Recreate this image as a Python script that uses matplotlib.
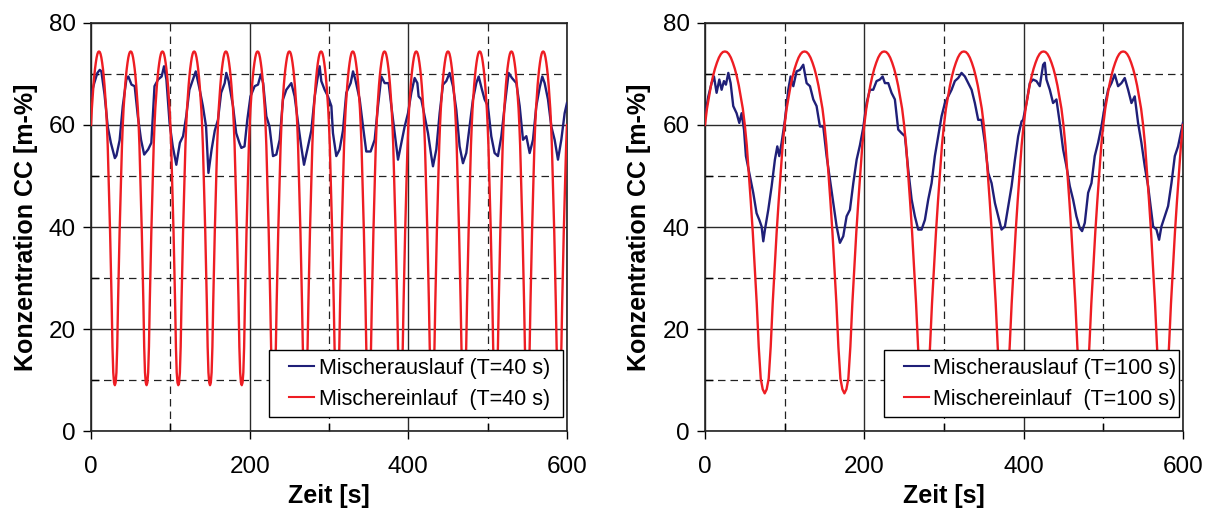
import numpy as np
import matplotlib
matplotlib.use("Agg")
import matplotlib.pyplot as plt
from matplotlib.ticker import MultipleLocator
from matplotlib.legend_handler import HandlerLine2D

plt.rcParams['font.family'] = ['Liberation Sans', 'DejaVu Sans']

# ---------------------------------------------------
# Data
# ---------------------------------------------------

# Mischereinlauf: one period of the inlet signal, 40 samples per period
left_red_cycle = [60, 63.2, 65.5, 67.7, 69.5, 71.0, 72.2, 73.2, 73.9, 74.3,
                  74.4, 74.3, 73.9, 73.2, 72.2, 71.0, 69.5, 67.7, 65.5, 63.2,
                  60, 56, 50.5, 45, 39, 32, 25, 16.5, 11.5, 9.5,
                  9.0, 9.5, 11.5, 16.5, 25, 32, 39, 45, 50.5, 56]
right_red_cycle = [60, 63.2, 65.5, 67.7, 69.5, 71.0, 72.2, 73.2, 73.9, 74.3,
                   74.4, 74.3, 73.9, 73.2, 72.2, 71.0, 69.5, 67.7, 65.5, 63.2,
                   60, 56, 50.5, 45, 39, 32, 25, 16.5, 10.3, 8.2,
                   7.4, 8.2, 10.3, 16.5, 25, 32, 39, 45, 50.5, 56]
left_period = 40
right_period = 100

# Mischerauslauf (T=40 s)
left_blue_t = [0, 2, 4, 8, 11, 13, 17, 21, 25, 30, 32, 36, 40, 44.5, 47, 51, 55, 59, 63, 67,
               72, 76, 80, 84.5, 89, 92, 95, 99, 103, 107.5, 112, 116, 120, 124, 128.5, 132, 137, 141, 145, 148,
               152, 156, 160, 164, 168.5, 170.5, 173.5, 179, 183, 187, 189.5, 193.5, 197, 201, 206.3, 210.5, 214, 217, 221, 225,
               229.4, 233.6, 237.8, 242, 246.2, 252.5, 256.7, 261, 265, 268.5, 272.7, 277.7, 282, 285.3, 288.2, 290.3, 294.5, 298.7, 303, 305,
               309.2, 313.4, 317.6, 321.8, 327.3, 330.3, 333.2, 338.7, 342.9, 347, 352.5, 357.6, 361.8, 366, 370.2, 375.2, 378.6, 382.8, 387, 391.2,
               395.4, 399.6, 403.8, 408, 411.4, 413, 416.4, 420.6, 424.8, 429, 431.1, 435.3, 439.5, 443.7, 447.9, 452.1, 456.3, 460.5, 464.7, 468.9,
               473.1, 477.3, 481.5, 485.7, 488.7, 492.9, 496.2, 500.4, 504.6, 508.8, 513, 517.3, 521.5, 526.5, 530.7, 536.2, 540.4, 544.6, 548.8, 553,
               557.2, 561.4, 565.6, 568.9, 571.9, 576.1, 580.3, 584.5, 588.7, 592.9, 597.1, 600]
left_blue_c = [65.5, 67, 68.2, 70.2, 70.8, 70.5, 66, 59.7, 56.5, 53.5, 54, 57, 63.7, 68.9, 69.5, 67.9, 67.6, 61.7, 57.1, 54.2,
               55.2, 56.5, 67.6, 68.9, 69.5, 71.5, 68.9, 60.4, 55.8, 52.2, 56.5, 57.8, 61.7, 66.9, 68.9, 70.5, 66.9, 63.7, 59.7, 50.6,
               55.2, 58.9, 61, 66.3, 68.2, 70.2, 68.6, 63.7, 58.4, 56.5, 55.5, 55.8, 61, 65.6, 67.6, 67.9, 69.9, 68.2, 61.7, 59.7,
               53.9, 54.2, 57.1, 65, 66.9, 68.2, 65.6, 60.4, 55.8, 52.2, 55.2, 58.9, 65.6, 68.9, 71.5, 68.6, 66.9, 65.6, 63.7, 58.4,
               53.9, 55.2, 58.9, 66.3, 68.2, 70.5, 68.9, 65, 59.7, 54.8, 54.8, 57.1, 63.7, 69.5, 68.2, 68.2, 63.7, 58.4, 53.2, 56.5,
               59.7, 62.3, 66.3, 69.2, 68.2, 65.6, 65, 61.7, 58.4, 53.9, 51.9, 55.2, 62.3, 67.9, 68.6, 70.2, 67.6, 63, 55.8, 52.5,
               54.5, 59.7, 65, 68.2, 69.5, 66.9, 65, 63.7, 57.8, 54.5, 53.9, 57.8, 63.7, 70.2, 69.2, 68.2, 63.7, 57.1, 57.8, 54.5,
               57.1, 63.7, 67.3, 69.5, 68.2, 65, 59.7, 57.1, 53.2, 57.1, 62.3, 64.3]

# Mischerauslauf (T=100 s)
right_blue_t = [0, 4.2, 8.3, 11.3, 14.6, 18, 20.9, 23.8, 26.3, 29.3, 32.2, 35.5, 39.7, 43.1, 46, 49, 51.4, 56.5, 60.6, 64.8,
                68.2, 71.1, 73.2, 75.3, 79.5, 83.7, 87.8, 90.8, 93.3, 96.2, 100.4, 104.6, 107.5, 110.9, 115, 119.2, 123.4, 127.6, 131.8, 136,
                140.1, 144.3, 148.5, 152.7, 156.9, 161.1, 165.3, 169.4, 173.6, 177.8, 182, 186.2, 190.4, 194.5, 198.7, 202.9, 207, 211.2, 215.4, 219.6,
                223, 225.9, 230.1, 234.2, 238.4, 242.6, 246.8, 251, 255.2, 259.4, 263.5, 267.7, 271.9, 276.1, 280.3, 284.5, 288.6, 292.8, 297, 301.2,
                305.4, 309.6, 313.7, 317.9, 322.1, 326.3, 330.5, 334.7, 338.8, 343, 347.2, 351.4, 355.6, 359.8, 364, 368.1, 372.3, 376.5, 380.7, 384.9,
                389.1, 393.2, 397.4, 399.4, 403.6, 407.8, 411.9, 416.1, 420.3, 424.5, 426.6, 428.7, 432.9, 437, 441.2, 445.4, 449.6, 453.8, 458, 462.1,
                466.3, 470.5, 473.4, 476.8, 481, 485.2, 489.3, 493.5, 497.7, 501.9, 506.1, 510.3, 514.4, 518.6, 522.8, 527, 531.2, 535.4, 539.5, 543.7,
                547.9, 552.1, 556.3, 560.5, 562.6, 566.8, 570.1, 573, 577.2, 581.4, 585.6, 589.8, 593.9, 600]
right_blue_c = [61.7, 65.6, 68.2, 69.5, 66.3, 68.9, 66.9, 68.6, 67.9, 70.2, 68.2, 63.7, 62.3, 60.4, 62.3, 59.1, 53.9, 49.9, 46.7, 42.7,
                41.4, 40.1, 37.2, 39.5, 43.4, 48, 53.2, 55.8, 53.9, 56.5, 61, 66.9, 69.5, 67.6, 70.5, 70.8, 71.8, 68.2, 67.6, 65,
                63.7, 59.7, 59.7, 53.9, 49.3, 44.7, 40.1, 36.9, 38.2, 42.1, 43.4, 48.6, 53.2, 56, 59.5, 64.3, 66.9, 66.9, 68.6, 68.9,
                69.5, 68.2, 68.2, 66.3, 65, 59.1, 58.4, 57.8, 51.2, 45.4, 42.1, 39.5, 39.5, 41.4, 45.4, 48.6, 53.9, 57.8, 61.7, 64.3,
                65.6, 66.9, 68.6, 69.2, 70.2, 69.5, 68.2, 66.9, 64.3, 61, 61, 56.5, 50.6, 48.6, 44.7, 42.1, 39.5, 40.1, 44.1, 48,
                53.2, 57.8, 60.7, 61, 64.3, 68.2, 68.9, 68.6, 67.6, 71.8, 72.2, 68.9, 66.9, 64.3, 65, 60.4, 55.2, 51.9, 48, 45.4,
                42.1, 39.8, 39.2, 40.8, 46.7, 48.6, 53.9, 56.5, 59.7, 63.7, 66.9, 68.2, 69.9, 67.6, 68.2, 69.2, 66.9, 64.3, 65.6, 60.4,
                56.5, 51.9, 48, 42.7, 40.1, 39.5, 37.5, 40.1, 42.1, 44.1, 48.6, 53.9, 55.8, 60.4]

labels_left = ["Mischerauslauf (T=40 s)", "Mischereinlauf  (T=40 s)"]
labels_right = ["Mischerauslauf (T=100 s)", "Mischereinlauf  (T=100 s)"]

blue = '#1f1f78'
red = '#ee1d23'


def red_series(cycle, period, t_end=600):
    # repeat the read period over the whole time span
    n_per = int(t_end / period)
    c = list(np.tile(cycle, n_per)) + [cycle[0]]
    t = np.linspace(0, t_end, len(c))
    return t, c


def draw_panel(ax, blue_t, blue_c, red_cycle, period, labels):
    red_t, red_c = red_series(red_cycle, period)
    l1, = ax.plot(blue_t, blue_c, color=blue, lw=1.7, zorder=3)
    l2, = ax.plot(red_t, red_c, color=red, lw=1.7, zorder=4)

    ax.set_xlim(0, 600)
    ax.set_ylim(0, 80)
    ax.xaxis.set_major_locator(MultipleLocator(200))
    ax.xaxis.set_minor_locator(MultipleLocator(100))
    ax.yaxis.set_major_locator(MultipleLocator(20))
    ax.yaxis.set_minor_locator(MultipleLocator(10))

    # solid major grid, dashed minor grid
    ax.grid(which='major', color='#2a2a2a', lw=1.0, ls='-', zorder=1)
    ax.grid(which='minor', color='#222222', lw=0.9, ls=(0, (6, 4)), zorder=1)
    ax.set_axisbelow(True)

    ax.tick_params(which='major', direction='out', length=6, width=1.0, labelsize=17.5, pad=12)
    ax.tick_params(axis='y', which='major', pad=5)
    ax.tick_params(which='minor', direction='in', length=6, width=1.0)
    for s in ax.spines.values():
        s.set_linewidth(1.2)
        s.set_color('#222222')

    ax.set_xlabel("Zeit [s]", fontsize=18, fontweight='bold', labelpad=4)
    ax.set_ylabel("Konzentration CC [m-%]", fontsize=18, fontweight='bold', labelpad=8)

    leg = ax.legend([l1, l2], labels, loc='lower left',
                    bbox_to_anchor=(0.374, 0.034, 0.618, 0.16), mode='expand',
                    borderaxespad=0, fontsize=15.5, handlelength=1.75, handletextpad=0.2,
                    borderpad=0.35, labelspacing=0.45, fancybox=False,
                    framealpha=1, edgecolor='black',
                    handler_map={l1: HandlerLine2D(xpad=0.6), l2: HandlerLine2D(xpad=0.6)})
    leg.get_frame().set_linewidth(1.0)
    for h in leg.get_lines():
        h.set_linewidth(1.5)


fig = plt.figure(figsize=(12.14, 5.09), dpi=100)
ax1 = fig.add_axes([0.075, 0.153, 0.392, 0.802])
ax2 = fig.add_axes([0.5807, 0.153, 0.3937, 0.802])

draw_panel(ax1, left_blue_t, left_blue_c, left_red_cycle, left_period, labels_left)
draw_panel(ax2, right_blue_t, right_blue_c, right_red_cycle, right_period, labels_right)

fig.savefig("out.png", dpi=100)
